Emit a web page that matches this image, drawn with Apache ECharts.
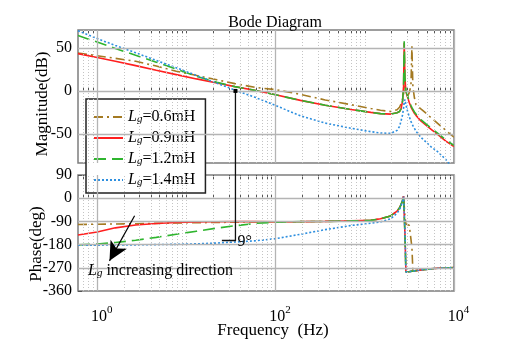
<!DOCTYPE html>
<html>
<head>
<meta charset="utf-8">
<script src="https://cdn.jsdelivr.net/npm/echarts@6/dist/echarts.min.js"></script>
<style>
html,body{margin:0;padding:0;background:#fff;}
#main{width:530px;height:346px;}
</style>
</head>
<body>
<div id="main"></div>
<script>
// 频率点 (Hz)
var freq = [0.61, 1, 1.6, 2.7, 4.6, 7.7, 13, 22, 35, 60, 100, 190, 360, 700, 1170, 1500, 1950, 2300, 2450, 2550,
            2650, 2720, 2766, 2820, 2890, 3020, 3150, 3290, 3375, 3460, 3600, 3750, 4250, 4850, 5500, 6600, 8100, 10000];

// 幅值 (dB)
var mag06 = [44, 41, 38, 34.5, 29, 23, 18, 13, 8.5, 4, 1.5, -4, -10.5, -16, -20.5, -22.5, -24, -22, -19, -15,
             -10, -4, 6, 3, -3, -6, -2, 6, 52, 5, -8, -16, -21, -26, -31, -38, -46, -54];
var mag09 = [43.5, 39, 34.5, 29.5, 24, 19, 14, 9.3, 5, 0.5, -4.5, -11, -16.6, -21.6, -25, -26.5, -27, -25.5, -24, -21,
             -12, 5, 56, 15, -1, -7.5, -13.5, -18.5, -21, -23, -26, -28.5, -35, -40, -44.5, -51, -58.5, -65];
var mag12 = [64.5, 57, 49.5, 41.5, 33.5, 25.5, 17, 10, 5, 0.5, -4.5, -11, -16.6, -21.6, -25, -26.5, -27, -25.5, -24, -21,
             -12, 5, 58, 16, 0, -6, -12, -17, -19.5, -21.5, -24.5, -27, -33.5, -38.5, -43, -49.5, -57, -63.5];
var mag14 = [70, 61, 53, 44.5, 35.5, 27, 18, 9, 1, -7.8, -17, -29, -37.5, -43.5, -47.5, -49, -49.5, -46, -41.5, -35,
             -28, -20, -13, -10, -16, -24, -30, -35.5, -38, -40.5, -43.5, -47, -54, -59.5, -65, -71, -80, -92];

// 相位 (deg)
var ph06 = [-102, -101, -100, -99, -97.5, -96, -95, -94, -93, -92, -91.5, -91, -90, -88, -86, -80, -69, -50, -38, -25,
            -8, 8, 12, -70, -100, -103, -105, -110, -190, -283, -282, -281, -278, -276, -274, -272, -270.5, -269];
var ph09 = [-143, -131, -115, -104, -98, -94, -92.5, -91.5, -91, -91, -91.5, -91, -90, -88, -86, -80, -69, -50, -38, -25,
            -8, 8, 12, -140, -286, -287, -285.5, -284, -283, -282.5, -282, -281, -278, -276, -274, -272, -270.5, -269];
var ph12 = [-181, -178, -172, -163, -152, -140, -128, -116, -107, -97.5, -93, -91, -90, -88, -86, -80, -69, -50, -38, -25,
            -8, 8, 12, -140, -286, -287, -285.5, -284, -283, -282.5, -282, -281, -278, -276, -274, -272, -270.5, -269];
var ph14 = [-182, -182, -181.5, -181, -180, -179, -177, -174, -170, -165, -157, -140, -122, -106, -97, -92, -80, -58, -44, -30,
            -10, 6, 10, -120, -286, -287, -285.5, -284, -283, -282.5, -282, -281, -278, -276, -274, -272, -270.5, -269];

var names = ['Lg=0.6mH', 'Lg=0.9mH', 'Lg=1.2mH', 'Lg=1.4mH'];
var colors = ['#a47a22', '#ff1f1f', '#2fb52f', '#2e8fdf'];
var freqTicks = [1, 100, 10000];
var magTicks = [-50, 0, 50];

var serif = "'Liberation Serif', 'Times New Roman', serif";

// 次网格线位置
var minor = [];
for (var d = -1; d <= 3; d++) {
  for (var m = 1; m <= 9; m++) {
    var v = m * Math.pow(10, d);
    if (v >= 0.61 && v <= 10000) minor.push(+v.toPrecision(3));
  }
}
minor.push(10000);

function pairs(ys) {
  return freq.map(function (f, i) { return [f, ys[i]]; });
}

var dashes = [[9, 4, 2, 4], 'solid', [12, 6], [2, 2]];
var magData = [mag06, mag09, mag12, mag14];
var phData = [ph06, ph09, ph12, ph14];

var series = [];
// 网格线
function gridLines(xi, yi, hvals) {
  var data = [];
  minor.forEach(function (v) {
    var major = freqTicks.indexOf(v) >= 0;
    data.push({ xAxis: v, lineStyle: major ? { type: 'solid', color: '#b4b4b4', width: 1.3 } : { type: [1, 2], color: '#c4c4c4', width: 1 } });
  });
  hvals.forEach(function (v) {
    data.push({ yAxis: v, lineStyle: { type: 'solid', color: '#b4b4b4', width: 1.3 } });
  });
  return {
    type: 'line', xAxisIndex: xi, yAxisIndex: yi, data: [], z: 1, silent: true,
    markLine: { silent: true, symbol: 'none', animation: false, label: { show: false }, data: data }
  };
}
series.push(gridLines(0, 0, magTicks));
series.push(gridLines(2, 1, [0, -90, -180, -270]));

for (var i = 0; i < 4; i++) {
  series.push({
    name: names[i], type: 'line', xAxisIndex: 0, yAxisIndex: 0, data: pairs(magData[i]),
    symbol: 'none', z: 3, color: colors[i],
    lineStyle: { width: 1.6, type: dashes[i], color: colors[i] }
  });
  series.push({
    name: names[i], type: 'line', xAxisIndex: 2, yAxisIndex: 1, data: pairs(phData[i]),
    symbol: 'none', z: 3, color: colors[i],
    lineStyle: { width: 1.6, type: dashes[i], color: colors[i] }
  });
}

// 箭头 Lg 增大方向
series.push({
  type: 'line', xAxisIndex: 2, yAxisIndex: 1, data: [], z: 4, silent: true,
  markLine: {
    silent: true, animation: false, symbol: ['none', 'arrow'], symbolSize: [14, 19],
    label: { show: false },
    lineStyle: { color: '#000', width: 1.2, type: 'solid' },
    data: [[{ coord: [2.63, -68] }, { coord: [1.375, -243] }]]
  }
});

function xAxisCfg(grid, pos, labels) {
  return {
    type: 'log', logBase: 10, gridIndex: grid, position: pos, min: 0.61, max: 10000,
    axisLine: { show: false },
    axisTick: { show: true, inside: true, length: 4, customValues: minor, lineStyle: { color: '#555' } },
    axisLabel: labels ? {
      show: true, customValues: freqTicks, margin: 14, padding: [0, 0, 0, 9],
      formatter: function (v) { return '{b|10}{s|' + Math.round(Math.log10(v)) + '}'; },
      rich: {
        b: { fontFamily: serif, fontSize: 16, lineHeight: 24, color: '#000' },
        s: { fontFamily: serif, fontSize: 11, lineHeight: 12, verticalAlign: 'top', color: '#000' }
      }
    } : { show: false },
    splitLine: { show: false }
  };
}

var option = {
  animation: false,
  backgroundColor: '#fff',
  grid: [
    { left: 78, top: 30, width: 376, height: 133, show: true, borderColor: '#7d7d7d', borderWidth: 1.5, backgroundColor: 'transparent' },
    { left: 78, top: 175, width: 376, height: 116, show: true, borderColor: '#7d7d7d', borderWidth: 1.5, backgroundColor: 'transparent' }
  ],
  xAxis: [xAxisCfg(0, 'bottom', false), xAxisCfg(0, 'top', false), xAxisCfg(1, 'bottom', true), xAxisCfg(1, 'top', false)],
  yAxis: [
    {
      type: 'value', gridIndex: 0, min: -84, max: 71,
      axisLine: { show: false },
      axisTick: { show: true, inside: true, length: 4, customValues: magTicks, lineStyle: { color: '#555' } },
      axisLabel: { customValues: magTicks, margin: 6, fontFamily: serif, fontSize: 16, color: '#000' },
      splitLine: { show: false }
    },
    {
      type: 'value', gridIndex: 1, min: -360, max: 90, interval: 90,
      axisLine: { show: false },
      axisTick: { show: true, inside: true, length: 4, lineStyle: { color: '#555' } },
      axisLabel: { margin: 6, fontFamily: serif, fontSize: 16, color: '#000' },
      splitLine: { show: false }
    }
  ],
  legend: {
    data: names, orient: 'vertical', left: 86, top: 99,
    backgroundColor: '#fff', borderColor: '#222', borderWidth: 1.5, borderRadius: 0,
    padding: [10, 10, 5, 7], itemGap: 5, itemWidth: 29, itemHeight: 14,
    itemStyle: { opacity: 0 },
    formatter: function (name) { return '{l|L}{g|g}{t|=' + name.split('=')[1] + '}'; },
    textStyle: {
      fontFamily: serif, fontSize: 16, color: '#000',
      rich: {
        l: { fontFamily: serif, fontSize: 16, fontStyle: 'italic', lineHeight: 16, color: '#000' },
        g: { fontFamily: serif, fontSize: 11, fontStyle: 'italic', lineHeight: 8, verticalAlign: 'bottom', color: '#000' },
        t: { fontFamily: serif, fontSize: 16, lineHeight: 16, color: '#000' }
      }
    }
  },
  series: series
};

var chart = echarts.init(document.getElementById('main'));
chart.setOption(option);

// 标注: 穿越频率处的竖线和相位裕度
var pTop = chart.convertToPixel({ xAxisIndex: 0, yAxisIndex: 0 }, [35.5, 0]);
var pBot = chart.convertToPixel({ xAxisIndex: 2, yAxisIndex: 1 }, [35.5, -164]);
var pLeft = chart.convertToPixel({ xAxisIndex: 2, yAxisIndex: 1 }, [25, -164]);

chart.setOption({
  graphic: [
    { type: 'text', x: 275, y: 23, z: 10, style: { text: 'Bode Diagram', font: '16px ' + serif, fill: '#000', textAlign: 'center', textVerticalAlign: 'middle' } },
    { type: 'text', x: 43, y: 104, rotation: Math.PI / 2, z: 10, style: { text: 'Magnitude(dB)', font: '17px ' + serif, fill: '#000', textAlign: 'center', textVerticalAlign: 'middle' } },
    { type: 'text', x: 37, y: 244, rotation: Math.PI / 2, z: 10, style: { text: 'Phase(deg)', font: '17px ' + serif, fill: '#000', textAlign: 'center', textVerticalAlign: 'middle' } },
    { type: 'text', x: 273, y: 331, z: 10, style: { text: 'Frequency  (Hz)', font: '17px ' + serif, fill: '#000', textAlign: 'center', textVerticalAlign: 'middle' } },
    {
      type: 'text', x: 88, y: 271, z: 10,
      style: {
        text: '{l|L}{g|g}{t| increasing direction}', textAlign: 'left', textVerticalAlign: 'middle',
        rich: {
          l: { fontFamily: serif, fontSize: 16, fontStyle: 'italic', lineHeight: 16, fill: '#000' },
          g: { fontFamily: serif, fontSize: 11, fontStyle: 'italic', lineHeight: 8, verticalAlign: 'bottom', fill: '#000' },
          t: { fontFamily: serif, fontSize: 16, lineHeight: 16, fill: '#000' }
        }
      }
    },
    { type: 'polyline', z: 10, shape: { points: [pTop, pBot, pLeft] }, style: { stroke: '#111', lineWidth: 1.3, fill: null } },
    { type: 'rect', z: 10, shape: { x: pTop[0] - 2, y: pTop[1] - 2, width: 4, height: 4 }, style: { fill: '#000' } },
    { type: 'text', x: pBot[0] + 2, y: pBot[1] + 1, z: 10, style: { text: '9°', font: '16px ' + serif, fill: '#000', textAlign: 'left', textVerticalAlign: 'middle' } }
  ]
});
</script>
</body>
</html>
